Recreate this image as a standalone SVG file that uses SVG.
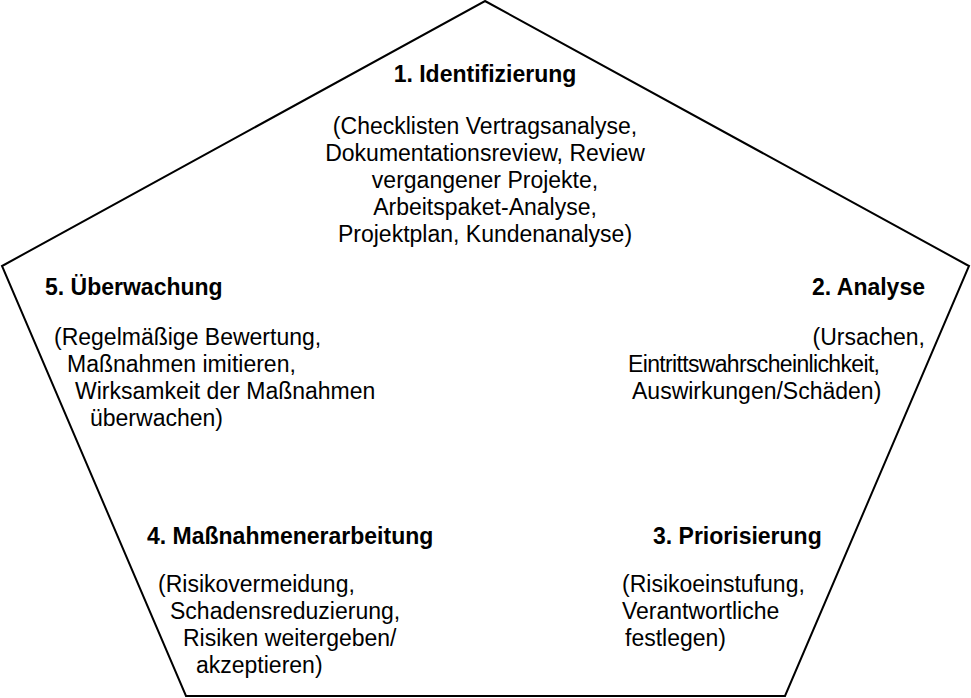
<svg xmlns="http://www.w3.org/2000/svg" width="971" height="698" viewBox="0 0 971 698">
<style>
text{font-family:"Liberation Sans",Arial,sans-serif;font-size:23px;fill:#000}
.t{font-weight:bold}
.c{text-anchor:middle}
</style>
<rect width="971" height="698" fill="#fff"/>
<g id="pentagon"><polygon points="485,1 969,266 785,696 186,696 2,266" fill="#fff" stroke="#000" stroke-width="2"/></g>
<g id="n1">
<text class="t c" x="485" y="82">1. Identifizierung</text>
<text class="c" x="485" y="134">(Checklisten Vertragsanalyse,</text>
<text class="c" x="485" y="161">Dokumentationsreview, Review</text>
<text class="c" x="485" y="188">vergangener Projekte,</text>
<text class="c" x="485" y="215">Arbeitspaket-Analyse,</text>
<text class="c" x="485" y="242">Projektplan, Kundenanalyse)</text>
</g>
<g id="n2">
<text class="t" x="925" y="295" text-anchor="end">2. Analyse</text>
<text x="925" y="345" text-anchor="end">(Ursachen,</text>
<text x="628" y="372" textLength="252">Eintrittswahrscheinlichkeit,</text>
<text x="632" y="399">Auswirkungen/Schäden)</text>
</g>
<g id="n3">
<text class="t" x="653" y="544">3. Priorisierung</text>
<text x="622" y="592">(Risikoeinstufung,</text>
<text x="622" y="619">Verantwortliche</text>
<text x="625" y="646">festlegen)</text>
</g>
<g id="n4">
<text class="t" x="147" y="544">4. Maßnahmenerarbeitung</text>
<text x="158" y="592">(Risikovermeidung,</text>
<text x="170" y="619">Schadensreduzierung,</text>
<text x="183" y="646">Risiken weitergeben/</text>
<text x="196" y="673">akzeptieren)</text>
</g>
<g id="n5">
<text class="t" x="45" y="295">5. Überwachung</text>
<text x="54" y="345">(Regelmäßige Bewertung,</text>
<text x="67" y="372">Maßnahmen imitieren,</text>
<text x="75" y="399">Wirksamkeit der Maßnahmen</text>
<text x="90" y="426">überwachen)</text>
</g>
<g id="connectors"/>
</svg>
